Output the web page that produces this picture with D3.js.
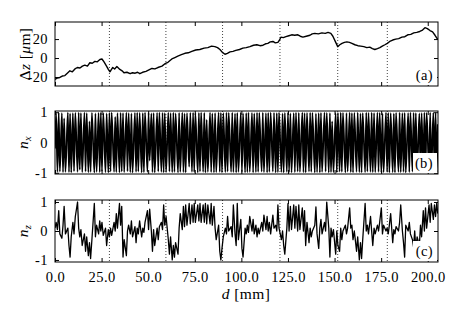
<!DOCTYPE html>
<html>
<head>
<meta charset="utf-8">
<script src="https://cdn.jsdelivr.net/npm/d3@7"></script>
<style>
  body { margin: 0; background: #fff; }
  text { font-family: "Liberation Serif", "DejaVu Serif", serif; fill: #000; letter-spacing: 0.4px; }
</style>
</head>
<body>
<svg id="chart" width="460" height="320"></svg>
<script>
// --- data ---

// x axis
const xTicks = [0, 25, 50, 75, 100, 125, 150, 175, 200];
// dotted marker lines (mm)
const markerPos = [29.2, 59.5, 89.9, 120.7, 151.7, 178.3];

const dzTicks = [-20, 0, 20];
const nTicks = [-1, 0, 1];
const panelTags = ["(a)", "(b)", "(c)"];

// (a) height deviation, [d mm, dz um]
const dzPoints = [
  [0.0,-22.5],[1.3,-21],[2.6,-20.5],[3.9,-19],[5.3,-18.5],[6.6,-16],[8.0,-13.5],[9.3,-14.5],
  [10.7,-11.5],[12.0,-10],[13.4,-10.5],[14.7,-8.5],[16.0,-7.5],[17.4,-8.5],[18.7,-5],[20.0,-5.5],
  [21.4,-3.5],[22.7,-4],[24.1,-1.5],[25.2,-1],[26.3,-4],[27.8,-9],[28.6,-12],[29.5,-14.5],
  [30.3,-12],[31.0,-10],[32.0,-11.5],[33.2,-9],[34.0,-10.5],[34.8,-12],[36.0,-13.5],[37.0,-15.5],
  [38.6,-15],[40.3,-16.5],[41.6,-15.5],[43.0,-16],[44.3,-15],[45.5,-16.5],[47.0,-15],[48.8,-14],
  [50.4,-12.5],[52.0,-11],[53.6,-11.5],[55.2,-10],[57.4,-8.5],[59.0,-6],[60.6,-4.5],[62.7,-1],
  [64.3,0.5],[65.9,2],[67.8,3.5],[69.7,5],[71.5,5.5],[73.4,7],[75.5,8.5],[77.7,9],
  [80.0,10.5],[82.0,11],[84.0,12.5],[85.8,12],[87.2,11],[88.5,9],[89.8,6],[91.2,4],
  [92.5,5],[93.9,6.5],[95.5,7],[97.0,8],[99.0,9],[100.8,10.5],[102.6,11],[104.6,12],
  [106.5,13.5],[108.3,14],[110.0,13],[111.6,13.5],[113.0,15],[114.2,15.5],[115.5,17],[116.9,17.5],
  [118.2,16],[119.6,16.5],[120.5,19],[121.2,22],[122.5,21.5],[123.9,22.5],[125.5,23.5],[127.0,24.5],
  [128.6,24],[130.3,24.5],[131.6,23],[133.0,22],[134.8,23],[136.8,24],[138.0,25.5],[139.4,26],
  [141.3,25.5],[143.2,26.5],[145.0,26],[146.5,27],[148.0,26],[149.1,23],[150.5,17],[151.7,12],
  [152.8,14],[154.0,15.5],[155.3,16.5],[156.6,17],[158.0,16.5],[159.3,15.5],[160.9,14],[162.5,13],
  [164.0,12.5],[165.7,12],[167.3,11],[168.9,11.5],[170.3,10],[171.6,9],[173.0,10],[174.3,11],
  [175.6,12.5],[177.0,14],[178.3,15.5],[179.6,17.5],[181.2,19],[182.8,20],[184.4,20.5],[186.1,22],
  [187.7,22.5],[189.3,24.5],[190.9,25],[192.5,26.5],[194.1,27],[195.7,28],[197.2,29.5],[198.5,32],
  [199.8,31],[201.2,29],[202.6,27.5],[203.9,24],[205.4,19.5]
];

// (b), (c) director components at the turning points (mm)
const nGrid = [
  0.0, 0.6, 1.3, 2.0, 2.6, 3.7, 4.3, 4.9, 5.6, 6.9,
  7.5, 8.1, 8.7, 9.6, 10.2, 10.9, 12.1, 12.7, 13.3, 13.9,
  14.6, 15.8, 16.4, 17.0, 17.9, 18.5, 19.1, 19.8, 21.1, 21.7,
  22.3, 23.4, 24.0, 24.6, 25.2, 25.9, 27.1, 27.7, 28.6, 29.2,
  29.8, 30.4, 31.7, 32.3, 32.9, 33.5, 34.6, 35.2, 35.8, 36.5,
  37.1, 38.3, 38.9, 39.5, 40.4, 41.0, 41.6, 42.9, 43.5, 44.1,
  44.7, 45.4, 46.5, 47.1, 47.7, 48.3, 49.6, 50.2, 50.8, 51.7,
  52.3, 52.9, 53.5, 54.8, 55.4, 56.0, 57.1, 57.7, 58.3, 58.9,
  59.6, 60.8, 61.4, 62.0, 62.9, 63.5, 64.1, 64.7, 66.0, 66.6,
  67.2, 68.3, 68.9, 69.5, 70.1, 70.8, 72.0, 72.6, 73.5, 74.1,
  74.7, 75.3, 76.6, 77.2, 77.8, 78.4, 79.5, 80.1, 80.7, 81.4,
  82.0, 83.2, 83.8, 84.4, 85.3, 85.9, 86.5, 87.8, 88.4, 89.0,
  89.6, 90.3, 91.4, 92.0, 92.6, 93.2, 94.5, 95.1, 95.7, 96.6,
  97.2, 97.8, 98.4, 99.7, 100.3, 100.9, 102.0, 102.6, 103.2, 103.8,
  104.5, 105.7, 106.3, 106.9, 107.8, 108.4, 109.0, 109.6, 110.9, 111.5,
  112.1, 113.2, 113.8, 114.4, 115.0, 115.7, 116.9, 117.5, 118.4, 119.0,
  119.6, 120.2, 121.5, 122.1, 122.7, 123.3, 124.4, 125.0, 125.6, 126.3,
  126.9, 128.1, 128.7, 129.3, 130.2, 130.8, 131.4, 132.7, 133.3, 133.9,
  134.5, 135.2, 136.3, 136.9, 137.5, 138.1, 139.4, 140.0, 140.6, 141.5,
  142.1, 142.7, 143.3, 144.6, 145.2, 145.8, 146.9, 147.5, 148.1, 148.7,
  149.4, 150.6, 151.2, 151.8, 152.7, 153.3, 153.9, 154.5, 155.8, 156.4,
  157.0, 158.1, 158.7, 159.3, 159.9, 160.6, 161.8, 162.4, 163.3, 163.9,
  164.5, 165.1, 166.4, 167.0, 167.6, 168.2, 169.3, 169.9, 170.5, 171.2,
  171.8, 173.0, 173.6, 174.2, 175.1, 175.7, 176.3, 177.6, 178.2, 178.8,
  179.4, 180.1, 181.2, 181.8, 182.4, 183.0, 184.3, 184.9, 185.5, 186.4,
  187.0, 187.6, 188.2, 189.5, 190.1, 190.7, 191.8, 192.4, 193.0, 193.6,
  194.3, 195.5, 196.1, 196.7, 197.6, 198.2, 198.8, 199.4, 200.7, 201.3,
  201.9, 203.0, 203.6, 204.2, 204.8, 205.4
];

const nxVals = [
  -0.2, 0.98, -0.97, 0.99, -0.96, 0.97, -0.98, 0.8, -0.97, 0.99,
  -0.98, 0.96, -0.99, 0.97, -0.95, 0.98, -0.97, 0.99, -0.9, 0.97,
  -0.98, 0.99, -0.96, 0.97, -0.98, 0.7, -0.97, 0.98, -0.99, 0.96,
  -0.97, 0.98, -0.98, 0.99, -0.95, 0.97, -0.98, 0.96, -0.99, 0.98,
  -0.96, 0.99, -0.97, 0.85, -0.98, 0.97, -0.99, 0.98, -0.96, 0.97,
  -0.98, 0.99, -0.95, 0.97, -0.98, 0.96, -0.99, 0.98, -0.97, 0.99,
  -0.96, 0.98, -0.99, 0.97, -0.98, 0.99, -0.97, 0.98, -0.6, 0.96,
  -0.98, 0.97, -0.99, 0.98, -0.96, 0.99, -0.97, 0.98, -0.99, 0.97,
  -0.98, 0.99, -0.96, 0.97, -0.98, 0.99, -0.97, 0.96, -0.99, 0.98,
  -0.97, 0.99, -0.98, 0.96, -0.99, 0.97, -0.8, 0.98, -0.97, 0.99,
  -0.98, 0.97, -0.99, 0.98, -0.96, 0.99, -0.97, 0.98, -0.99, 0.75,
  -0.97, 0.99, -0.98, 0.96, -0.99, 0.97, -0.98, 0.99, -0.97, 0.98,
  -0.99, 0.97, -0.98, 0.99, -0.96, 0.98, -0.97, 0.99, -0.98, 0.96,
  -0.99, 0.98, -0.97, 0.99, -0.98, 0.96, -0.99, 0.97, -0.98, 0.99,
  -0.97, 0.98, -0.99, 0.96, -0.98, 0.99, -0.97, 0.98, -0.96, 0.99,
  -0.98, 0.97, -0.99, 0.98, -0.97, 0.99, -0.96, 0.98, -0.99, 0.97,
  -0.98, 0.99, -0.97, 0.96, -0.99, 0.98, -0.97, 0.99, -0.98, 0.96,
  -0.99, 0.97, -0.98, 0.99, -0.96, 0.98, -0.97, 0.99, -0.98, 0.97,
  -0.99, 0.98, -0.96, 0.99, -0.97, 0.98, -0.99, 0.96, -0.98, 0.97,
  -0.99, 0.98, -0.97, 0.99, -0.96, 0.98, -0.99, 0.97, -0.98, 0.7,
  -0.98, 0.97, -0.99, 0.98, -0.96, 0.99, -0.97, 0.98, -0.99, 0.97,
  -0.96, 0.99, -0.98, 0.97, -0.99, 0.98, -0.97, 0.99, -0.98, 0.96,
  -0.99, 0.97, -0.98, 0.99, -0.96, 0.98, -0.97, 0.99, -0.98, 0.97,
  -0.98, 0.99, -0.97, 0.98, -0.99, 0.96, -0.98, 0.99, -0.97, 0.98,
  -0.99, 0.97, -0.98, 0.96, -0.99, 0.98, -0.97, 0.99, -0.98, 0.97,
  -0.97, 0.98, -0.99, 0.97, -0.98, 0.99, -0.96, 0.98, -0.99, 0.97,
  -0.98, 0.96, -0.99, 0.97, -0.98, 0.99, -0.97, 0.98, -0.96, 0.99,
  -0.98, 0.99, -0.97, 0.98, -0.99, 0.6
];

const nzVals = [
  0.1, 0.3, 0.05, 0.7, -0.1, -0.25, 0.2, 0.85, -0.1, 0.1,
  -0.5, -0.9, -0.2, 0.3, -0.1, 0.5, 1.0, 0.1, -0.2, 0.05,
  -0.5, -0.1, -0.7, -0.2, -0.85, -0.4, -0.95, -0.3, 0.95, -0.2,
  0.2, -0.1, 0.35, 0.0, 0.3, -0.15, 0.1, -0.5, 0.05, -0.2,
  0.1, -0.15, 0.3, 0.0, 0.6, 0.1, 0.95, 0.2, 0.85, -0.9,
  -0.3, -0.85, 0.0, 0.2, -0.1, 0.35, -0.2, 0.15, -0.4, 0.1,
  -0.1, 0.35, -0.2, 0.1, -0.05, 0.3, 0.7, 0.05, 0.75, 0.0,
  -0.7, 0.05, -0.5, 0.1, -0.3, 0.15, 0.3, 0.05, 0.9, 0.2,
  0.5, -0.3, -0.8, -0.2, -1.0, -0.5, -0.9, -0.4, -0.8, 0.1,
  0.6, 0.05, 0.85, 0.15, 0.9, 0.2, 0.95, 0.25, 0.9, 0.3,
  0.95, 0.3, 0.9, 0.35, 0.95, 0.3, 0.9, 0.3, 0.95, 0.25,
  0.9, 0.25, 0.95, 0.2, 0.85, 0.1, -0.3, 0.2, -0.7, -1.0,
  -0.6, -0.2, 0.1, -0.1, 0.5, 0.0, 0.15, -0.2, 0.9, -0.1,
  -0.5, 0.95, -0.3, 0.4, -0.6, -0.9, 0.1, -0.1, 0.2, -0.05,
  0.5, 0.0, 0.4, -0.1, 0.2, -0.2, 0.1, -0.1, 0.3, 0.0,
  0.55, 0.05, 0.5, 0.0, 0.3, -0.1, 0.55, 0.1, 0.2, 0.0,
  0.9, 0.1, -0.3, 0.0, -0.5, -0.8, 0.1, 0.94, 0.0, 0.85,
  0.05, 0.9, 0.1, 0.85, 0.0, 0.9, 0.05, 0.8, 0.0, 0.7,
  -0.5, 0.3, -0.4, 0.1, -0.2, 0.0, 0.2, 0.83, -0.1, -0.6,
  0.1, 0.4, -0.1, 0.3, 0.0, 1.0, 0.1, -0.9, 0.1, -0.2,
  0.05, -0.8, 0.0, -0.5, -0.7, 0.1, -0.3, 0.0, 0.2, -0.1,
  0.1, 0.8, 0.1, 0.2, -0.3, 0.0, -0.7, -0.2, -1.0, -0.4,
  -0.95, -0.3, 0.95, 0.0, 0.2, -0.1, 0.5, 0.0, -0.5, 0.1,
  -0.1, 0.2, 0.0, 0.3, 0.8, -0.1, 0.2, 0.0, 0.1, -0.1,
  0.2, 0.6, -0.4, 0.05, -0.1, 0.15, 0.0, 0.3, 0.9, 0.0,
  -0.4, -0.9, 0.2, 0.0, 0.3, -0.1, -0.3, -0.55, 0.0, -0.6,
  -0.2, -0.5, 0.2, -0.2, 0.7, 0.0, 0.8, 0.1, 0.9, 0.3,
  0.95, 0.4, 0.9, 0.5, 0.95, 0.6
];

// --- drawing ---
const svg = d3.select("#chart");
const x = d3.scaleLinear().domain([0, 205.5]).range([55, 438]);

const panels = [
  {top: 22,  bottom: 86,  dom: [-29.5, 38],   ticks: dzTicks, pts: dzPoints, width: 1.4, curve: d3.curveLinear},
  {top: 111, bottom: 174, dom: [-1.04, 1.04], ticks: nTicks,  pts: nGrid.map((d, i) => [d, nxVals[i]]), width: 1.7, curve: d3.curveMonotoneX},
  {top: 200, bottom: 262, dom: [-1.07, 1.07], ticks: nTicks,  pts: nGrid.map((d, i) => [d, nzVals[i]]), width: 1.3, curve: d3.curveLinear}
];

panels.forEach((p, k) => {
  const y = d3.scaleLinear().domain(p.dom).range([p.bottom, p.top]);
  const g = svg.append("g");

  g.append("clipPath").attr("id", "clip" + k)
    .append("rect")
    .attr("x", x.range()[0]).attr("y", p.top)
    .attr("width", x.range()[1] - x.range()[0]).attr("height", p.bottom - p.top);

  // dotted markers
  g.selectAll(".mark").data(markerPos).join("line")
    .attr("x1", d => x(d)).attr("x2", d => x(d))
    .attr("y1", p.top).attr("y2", p.bottom)
    .attr("stroke", "#444").attr("stroke-width", 1)
    .attr("stroke-dasharray", "1,2");

  // the curve
  g.append("path")
    .datum(p.pts)
    .attr("clip-path", `url(#clip${k})`)
    .attr("fill", "none")
    .attr("stroke", "#000")
    .attr("stroke-width", p.width)
    .attr("stroke-linejoin", "round")
    .attr("d", d3.line().x(d => x(d[0])).y(d => y(d[1])).curve(p.curve));

  // inward ticks on all four sides
  const bottomAxis = d3.axisBottom(x).tickValues(xTicks).tickSize(-4).tickPadding(10)
    .tickFormat(k === 2 ? d3.format(".1f") : () => "");
  g.append("g").attr("transform", `translate(0,${p.bottom})`).call(bottomAxis);
  g.append("g").attr("transform", `translate(0,${p.top})`)
    .call(d3.axisTop(x).tickValues(xTicks).tickSize(-4).tickFormat(() => ""));
  g.append("g").attr("transform", `translate(${x.range()[0]},0)`)
    .call(d3.axisLeft(y).tickValues(p.ticks).tickSize(-4).tickPadding(7).tickFormat(d => String(d)));
  g.append("g").attr("transform", `translate(${x.range()[1]},0)`)
    .call(d3.axisRight(y).tickValues(p.ticks).tickSize(-4).tickFormat(() => ""));

  g.selectAll(".domain").remove();
  g.selectAll(".tick line").attr("stroke", "#000");
  g.selectAll(".tick text").attr("font-size", 14.5)
    .attr("font-family", '"Liberation Serif", serif');

  // white box behind the panel tag
  g.append("rect")
    .attr("x", 413).attr("y", p.bottom - 21)
    .attr("width", 24).attr("height", 20)
    .attr("fill", "#fff");

  // frame
  g.append("rect")
    .attr("x", x.range()[0]).attr("y", p.top)
    .attr("width", x.range()[1] - x.range()[0]).attr("height", p.bottom - p.top)
    .attr("fill", "none").attr("stroke", "#000").attr("stroke-width", 1);

  // panel tag
  g.append("text")
    .attr("x", 433).attr("y", p.bottom - 6)
    .attr("text-anchor", "end").attr("font-size", 14.5)
    .text(panelTags[k]);
});

// y labels
const yl1 = svg.append("text").attr("transform", "translate(30,54) rotate(-90)")
  .attr("text-anchor", "middle").attr("font-size", 15.5);
yl1.append("tspan").text("\u0394");
yl1.append("tspan").attr("font-style", "italic").text("z");
yl1.append("tspan").text(" [");
yl1.append("tspan").attr("font-style", "italic").text("\u03bc");
yl1.append("tspan").text("m]");

[["x", 142.5], ["z", 231]].forEach(([s, cy]) => {
  const t = svg.append("text").attr("transform", `translate(28,${cy}) rotate(-90)`)
    .attr("text-anchor", "middle").attr("font-size", 15.5).attr("font-style", "italic");
  t.append("tspan").text("n");
  t.append("tspan").attr("font-size", 10.5).attr("dy", 3).text(s);
});

// x label
const xl = svg.append("text").attr("x", 246).attr("y", 299)
  .attr("text-anchor", "middle").attr("font-size", 15.5);
xl.append("tspan").attr("font-style", "italic").text("d");
xl.append("tspan").text(" [mm]");
</script>
</body>
</html>
